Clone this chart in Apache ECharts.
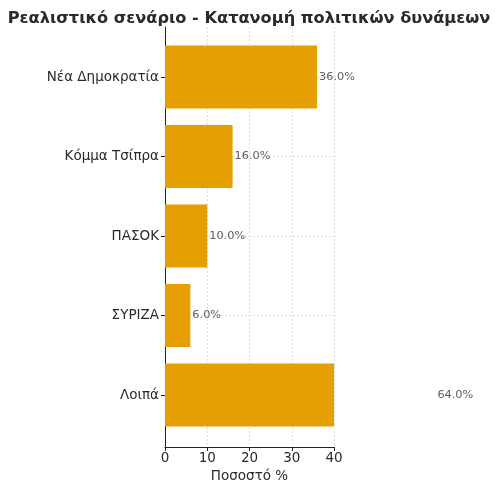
<!DOCTYPE html>
<html>
<head>
<meta charset="utf-8">
<script src="https://cdn.jsdelivr.net/npm/echarts@6/dist/echarts.min.js"></script>
<style>html,body{margin:0;padding:0;background:#fff}#c{width:500px;height:492px}</style>
</head>
<body>
<div id="c"></div>
<script>
const titleText = 'Ρεαλιστικό σενάριο - Κατανομή πολιτικών δυνάμεων';
const categories = ['Νέα Δημοκρατία', 'Κόμμα Τσίπρα', 'ΠΑΣΟΚ', 'ΣΥΡΙΖΑ', 'Λοιπά'];
const shares = [36, 16, 10, 6, 64];
const xTicks = [0, 10, 20, 30, 40];
const xName = 'Ποσοστό %';

const FONT = 'DejaVu Sans';
const L = 165, R = 500 - 334;
const grid = '#d3d3d3';

const chart = echarts.init(document.getElementById('c'), null, {renderer: 'canvas'});
chart.setOption({
  animation: false,
  backgroundColor: '#fff',
  title: {
    text: titleText, left: 244, textAlign: 'center', top: 6,
    textStyle: {fontFamily: FONT, fontSize: 16.2, fontWeight: 'bold', color: '#2a2a2a'}
  },
  grid: [
    {left: L, right: R, top: 27, height: 420},
    {left: L, right: R, top: 37.25, height: 397.5},
    {left: L, right: R, top: 77, height: 318}
  ],
  xAxis: [
    {
      gridIndex: 0, type: 'value', min: xTicks[0], max: xTicks[xTicks.length - 1], interval: 10,
      name: xName, nameLocation: 'middle', nameGap: 20,
      nameTextStyle: {fontFamily: FONT, fontSize: 13.5, color: '#2a2a2a'},
      axisLine: {show: true, lineStyle: {color: '#222', width: 1}},
      axisTick: {show: true, length: 4, inside: false, lineStyle: {color: '#222'}},
      axisLabel: {fontFamily: FONT, fontSize: 13.5, color: '#2a2a2a', margin: 4},
      splitLine: {show: true, lineStyle: {color: grid, type: [2, 2], width: 0.8}}
    },
    {gridIndex: 1, type: 'value', min: 0, max: 40, show: false},
    {gridIndex: 2, type: 'value', min: 0, max: 40, show: false}
  ],
  yAxis: [
    {
      gridIndex: 0, type: 'value', min: 0, max: 1,
      axisLine: {show: true, lineStyle: {color: '#222', width: 1}},
      axisTick: {show: false}, axisLabel: {show: false}, splitLine: {show: false}
    },
    {
      gridIndex: 1, type: 'category', data: categories, inverse: true,
      axisLine: {show: false},
      axisTick: {show: true, alignWithLabel: true, length: 4, lineStyle: {color: '#222'}},
      axisLabel: {fontFamily: FONT, fontSize: 13.5, color: '#2a2a2a', margin: 6},
      splitLine: {show: false}
    },
    {
      gridIndex: 2, type: 'category', data: categories, inverse: true, boundaryGap: false,
      axisLine: {show: false}, axisTick: {show: false}, axisLabel: {show: false},
      splitLine: {show: true, lineStyle: {color: grid, type: [2, 2], width: 0.8}}
    }
  ],
  series: [
    {
      type: 'bar', xAxisIndex: 1, yAxisIndex: 1,
      data: shares, barWidth: 63, clip: true,
      itemStyle: {color: '#E69F00'}
    },
    {
      type: 'scatter', xAxisIndex: 1, yAxisIndex: 1, clip: false,
      symbolSize: 0,
      data: shares.map((v, i) => [v, categories[i]]),
      label: {
        show: true, position: 'right', distance: 2,
        formatter: p => p.value[0].toFixed(1) + '%',
        fontFamily: FONT, fontSize: 11.3, color: '#333'
      }
    }
  ]
});
</script>
</body>
</html>
